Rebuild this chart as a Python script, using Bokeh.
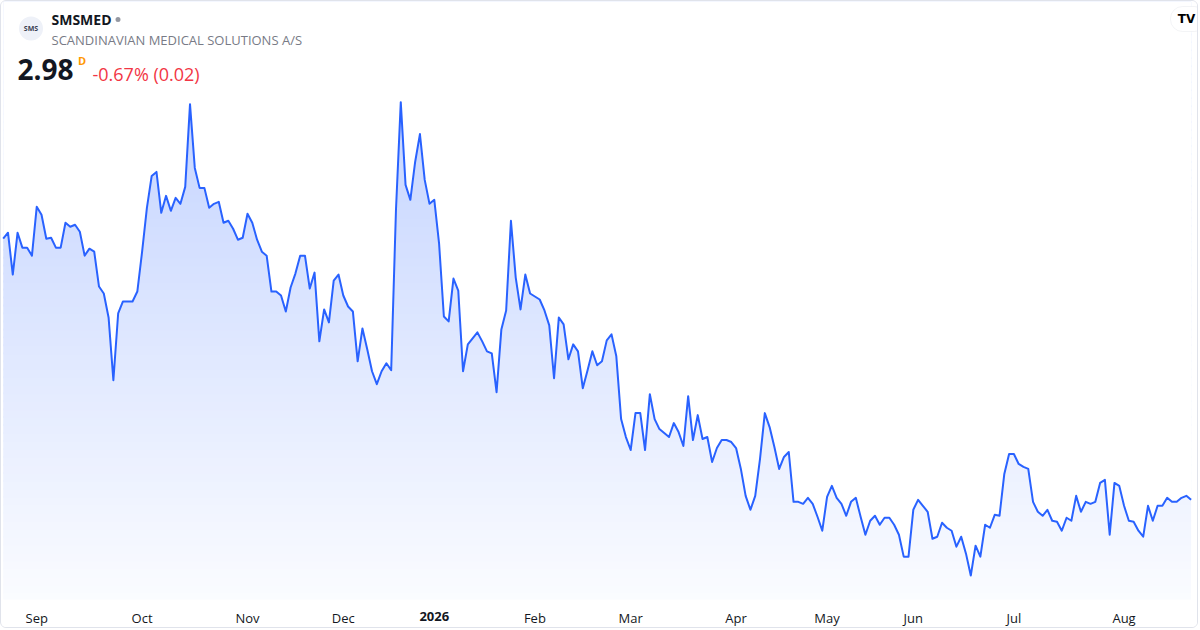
import numpy as np
from bokeh.plotting import figure
from bokeh.models import Range1d, FixedTicker, Label, BoxAnnotation, LinearAxis
from bokeh.embed import file_html
from bokeh.resources import INLINE

# ---------------- data ----------------
symbol = "SMSMED"
company = "SCANDINAVIAN MEDICAL SOLUTIONS A/S"
last_price = "2.98"
interval = "D"
change_text = "-0.67% (0.02)"

# daily closes (trading days)
prices = [
    4.29, 4.32, 4.11, 4.32, 4.245, 4.245, 4.205, 4.45, 4.41, 4.29,
    4.295, 4.245, 4.245, 4.37, 4.35, 4.36, 4.325, 4.205, 4.24, 4.225,
    4.05, 4.015, 3.895, 3.58, 3.915, 3.975, 3.975, 3.975, 4.025, 4.225,
    4.445, 4.605, 4.625, 4.42, 4.505, 4.43, 4.495, 4.465, 4.55, 4.965,
    4.645, 4.545, 4.545, 4.445, 4.465, 4.475, 4.37, 4.38, 4.34, 4.285,
    4.295, 4.415, 4.37, 4.285, 4.225, 4.205, 4.025, 4.025, 4.005, 3.925,
    4.045, 4.115, 4.205, 4.205, 4.04, 4.12, 3.775, 3.935, 3.87, 4.08,
    4.11, 4.005, 3.95, 3.925, 3.675, 3.84, 3.735, 3.625, 3.56, 3.625,
    3.665, 3.63, 4.435, 4.975, 4.56, 4.485, 4.675, 4.815, 4.585, 4.465,
    4.485, 4.265, 3.90, 3.875, 4.09, 4.03, 3.625, 3.76, 3.79, 3.82,
    3.775, 3.725, 3.715, 3.52, 3.835, 3.93, 4.38, 4.095, 3.935, 4.11,
    4.015, 4.00, 3.985, 3.93, 3.855, 3.59, 3.895, 3.86, 3.685, 3.76,
    3.725, 3.54, 3.63, 3.725, 3.655, 3.675, 3.78, 3.81, 3.70, 3.385,
    3.295, 3.23, 3.415, 3.415, 3.23, 3.51, 3.385, 3.335, 3.315, 3.295,
    3.365, 3.32, 3.25, 3.50, 3.28, 3.405, 3.285, 3.295, 3.17, 3.24,
    3.28, 3.28, 3.27, 3.24, 3.135, 3.00, 2.93, 3.00, 3.185, 3.415,
    3.345, 3.245, 3.135, 3.195, 3.22, 2.97, 2.97, 2.96, 2.99, 2.96,
    2.895, 2.825, 2.995, 3.05, 2.99, 2.96, 2.90, 2.97, 2.99, 2.895,
    2.805, 2.875, 2.90, 2.855, 2.89, 2.89, 2.855, 2.805, 2.695, 2.695,
    2.93, 2.98, 2.95, 2.92, 2.785, 2.795, 2.865, 2.84, 2.825, 2.745,
    2.795, 2.71, 2.60, 2.75, 2.695, 2.855, 2.84, 2.905, 2.90, 3.11,
    3.21, 3.21, 3.16, 3.145, 3.135, 2.97, 2.92, 2.90, 2.93, 2.875,
    2.87, 2.825, 2.89, 2.875, 3.00, 2.92, 2.97, 2.96, 2.97, 3.065,
    3.08, 2.805, 3.065, 3.05, 2.95, 2.875, 2.87, 2.825, 2.795, 2.95,
    2.875, 2.95, 2.95, 2.99, 2.97, 2.97, 2.99, 3.00, 2.98,
]

# month boundaries (trading-day index) and their labels
tick_index = [7, 29, 51, 71, 90, 111, 131, 153, 172, 190, 211, 234]
tick_labels = ["Sep", "Oct", "Nov", "Dec", "2026", "Feb", "Mar", "Apr", "May", "Jun", "Jul", "Aug"]
year_label = "2026"

# ---------------- styling ----------------
LINE = "#2962ff"
FONT = "Open Sans"
W, H = 1198, 628
BOTTOM = 28
Y0, Y1 = 2.48, 5.48
FRAME_TOP_PAGE = 1
FRAME_BOTTOM_PAGE = FRAME_TOP_PAGE + (H - BOTTOM)

x = np.arange(len(prices))
y = np.array(prices)

p = figure(width=W, height=H, output_backend="svg", toolbar_location=None,
           x_range=Range1d(-0.355, 249.75), y_range=Range1d(Y0, Y1),
           y_axis_location=None,
           min_border_left=0, min_border_right=0, min_border_top=0, min_border_bottom=BOTTOM)
p.background_fill_color = "white"
p.border_fill_color = "white"
p.outline_line_color = None
p.grid.visible = False
p.styles = {"border": "1px solid #e0e3eb", "border-radius": "6px", "overflow": "hidden"}

# gradient fill under the line: horizontal colour bands (slightly overlapping to
# avoid seams), masked above the line by a white area
step = 0.04
edges = np.arange(Y0, Y1 + 1e-9, step)
lo, hi = edges[:-1], edges[1:]
t = np.clip(((lo + hi) / 2 - Y0) / (y.max() - Y0), 0, 1)
alpha = 0.02 + 0.25 * t
base = (41, 98, 255)
band_colors = ["#%02x%02x%02x" % tuple(int(round(255 - (255 - c) * a)) for c in base) for a in alpha]
p.quad(left=x[0], right=x[-1], bottom=lo - step * 0.25, top=hi,
       fill_color=band_colors, line_color=None)
p.varea(x=x, y1=y, y2=Y1, fill_color="white", fill_alpha=1.0)

p.line(x, y, line_color=LINE, line_width=2, line_join="round")

# x axis: months (regular) ...
axis = p.xaxis[0]
axis_ticks = [i for i, lab in zip(tick_index, tick_labels) if lab != year_label]
axis.ticker = FixedTicker(ticks=axis_ticks)
axis.major_label_overrides = {i: lab for i, lab in zip(tick_index, tick_labels) if lab != year_label}
STANDOFF = 9
LABEL_H = 18

def style_axis(ax, standoff, bold=False):
    ax.axis_line_color = None
    ax.major_tick_line_color = None
    ax.minor_tick_line_color = None
    ax.major_tick_in = 0
    ax.major_tick_out = 0
    ax.major_label_standoff = standoff
    ax.major_label_text_font = FONT
    ax.major_label_text_font_size = "13px"
    ax.major_label_text_color = "#131722"
    if bold:
        ax.major_label_text_font_style = "bold"

style_axis(axis, STANDOFF)

# ... and the year tick (bold), drawn on the same row
year_idx = tick_index[tick_labels.index(year_label)]
year_axis = LinearAxis(ticker=FixedTicker(ticks=[year_idx]),
                       major_label_overrides={year_idx: year_label})
style_axis(year_axis, STANDOFF - (STANDOFF + LABEL_H), bold=True)
p.add_layout(year_axis, "below")

# ---------------- header ----------------
def sx(px):
    return px - 1

def sy(py):
    return FRAME_BOTTOM_PAGE - py

def box(l, r, t_, b, color, radius, line=None):
    return BoxAnnotation(left=sx(l), right=sx(r), top=sy(t_), bottom=sy(b),
                         left_units="screen", right_units="screen",
                         top_units="screen", bottom_units="screen",
                         fill_color=color, fill_alpha=1, line_color=line, border_radius=radius)

def text(px, py, s, size, color, bold=False, font=FONT, align="left"):
    return Label(x=sx(px), y=sy(py), x_units="screen", y_units="screen", text=s,
                 text_font=font, text_font_size=size, text_font_style="bold" if bold else "normal",
                 text_color=color, text_align=align, text_baseline="middle")

# logo
p.add_layout(box(18.5, 42.5, 18, 42, "#eef1f8", 12))
p.add_layout(text(30.5, 30, "SMS", "7px", "#3a4152", bold=True, align="center"))

p.add_layout(text(51, 20.5, symbol, "14px", "#131722", bold=True))
p.add_layout(box(115, 120, 18.5, 23.5, "#9598a1", 3))
p.add_layout(text(51, 41, company, "13px", "#787b86"))

p.add_layout(text(17, 71, last_price, "28px", "#131722", bold=True))
p.add_layout(text(77.5, 61.5, interval, "11px", "#ff9800", bold=True))
p.add_layout(text(92, 75, change_text, "18px", "#f23645"))

# TradingView badge
p.add_layout(box(1170, 1206, 8, 33, "white", 12, line="#d6d9e0"))
p.add_layout(text(1186, 20.5, "TV", "12px", "#000000", bold=True, font="DejaVu Sans", align="center"))

open("out.html", "w").write(file_html(p, INLINE))
